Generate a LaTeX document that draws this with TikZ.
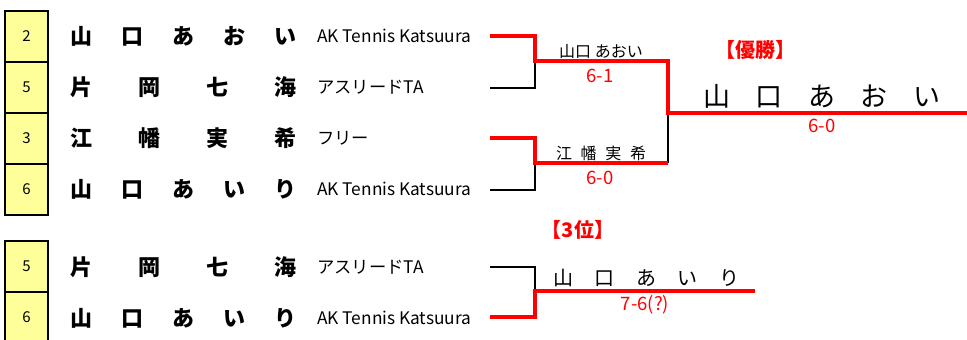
\documentclass[tikz,border=0pt]{standalone}
\usepackage{fontspec}
\setmainfont{Noto Sans CJK JP}
\definecolor{seedyellow}{HTML}{FFFF99}
\definecolor{winred}{HTML}{FF0000}
\newcommand{\spread}[2]{\makebox[#1][s]{#2}}
\begin{document}
\begin{tikzpicture}[x=1pt,y=-1pt,
  seedbox/.style={draw=black, line width=1.6pt, fill=seedyellow, minimum width=43pt, minimum height=51pt, inner sep=0pt, font=\fontsize{15}{15}\selectfont},
  player/.style={anchor=west, inner sep=0pt, font=\fontsize{22}{22}\selectfont\bfseries},
  club/.style={anchor=west, inner sep=0pt, font=\fontsize{17.3}{17.3}\selectfont},
  winline/.style={draw=winred, line width=3.5pt, line join=miter},
  loseline/.style={draw=black, line width=1.8pt, line join=miter},
  small/.style={inner sep=0pt, font=\fontsize{16}{16}\selectfont},
  score/.style={inner sep=0pt, text=winred, font=\fontsize{18.5}{18.5}\selectfont},
  title/.style={inner sep=0pt, text=winred, font=\fontsize{20}{20}\selectfont\bfseries},
  champ/.style={inner sep=0pt, anchor=west, font=\fontsize{27}{27}\selectfont},
  third/.style={inner sep=0pt, anchor=west, font=\fontsize{20}{20}\selectfont}
]
\useasboundingbox (0,0) rectangle (967,340);
% seed boxes
\node[seedbox] (s1) at (26.5,36.5) {2};
\node[seedbox] (s2) at (26.5,87.5) {5};
\node[seedbox] (s3) at (26.5,138.5) {3};
\node[seedbox] (s4) at (26.5,189.5) {6};
\node[seedbox] (s5) at (26.5,266.5) {5};
\node[seedbox] (s6) at (26.5,317.5) {6};
% players
\node[player] (p1) at (70,36) {\spread{226pt}{山\hfill 口\hfill あ\hfill お\hfill い}};
\node[player] (p2) at (70,87) {\spread{226pt}{片\hfill 岡\hfill 七\hfill 海}};
\node[player] (p3) at (70,138) {\spread{226pt}{江\hfill 幡\hfill 実\hfill 希}};
\node[player] (p4) at (70,189) {\spread{226pt}{山\hfill 口\hfill あ\hfill い\hfill り}};
\node[player] (p5) at (70,267) {\spread{226pt}{片\hfill 岡\hfill 七\hfill 海}};
\node[player] (p6) at (70,318) {\spread{226pt}{山\hfill 口\hfill あ\hfill い\hfill り}};
% clubs
\node[club] (k1) at (317,36) {AK Tennis Katsuura};
\node[club] (k2) at (317,87) {アスリードTA};
\node[club] (k3) at (317,138) {フリー};
\node[club] (k4) at (317,189) {AK Tennis Katsuura};
\node[club] (k5) at (317,267) {アスリードTA};
\node[club] (k6) at (317,318) {AK Tennis Katsuura};
% bracket coordinates
\coordinate (e1) at (490,36);
\coordinate (e2) at (490,88);
\coordinate (e3) at (490,138);
\coordinate (e4) at (490,190);
\coordinate (e5) at (490,267);
\coordinate (e6) at (490,317);
\coordinate (m1) at (535,61);
\coordinate (m2) at (535,163);
\coordinate (f1) at (668,61);
\coordinate (f2) at (668,163);
\coordinate (fm) at (668,113);
\coordinate (fe) at (967,113);
\coordinate (tm) at (535,291);
\coordinate (te) at (755,291);
% losing lines
\draw[loseline] (e2) -| (m1);
\draw[loseline] (e4) -| (m2);
\draw[loseline] (f2) -- (fm);
\draw[loseline] (e5) -| (tm);
% winning lines
\draw[winline] (e1) -| (m1) -- (f1) -- (fm) -- (fe);
\draw[winline] (e3) -| (m2) -- (f2);
\draw[winline] (e6) -| (tm) -- (te);
% round labels
\node[small] (w1) at (601,51) {山口 あおい};
\node[score] (r1) at (600,76) {6-1};
\node[small] (w2) at (601,153) {\spread{90pt}{江\hfill 幡\hfill 実\hfill 希}};
\node[score] (r2) at (600,178) {6-0};
% final
\node[title] (t1) at (755,50) {【優勝】};
\node[champ] (c1) at (703,96) {\spread{237pt}{山\hfill 口\hfill あ\hfill お\hfill い}};
\node[score] (r3) at (822,126) {6-0};
% third place
\node[title] (t2) at (578,230) {【3位】};
\node[third] (c2) at (553,278) {\spread{186pt}{山\hfill 口\hfill あ\hfill い\hfill り}};
\node[score] (r4) at (645,305) {7-6(?)};
\end{tikzpicture}
\end{document}
